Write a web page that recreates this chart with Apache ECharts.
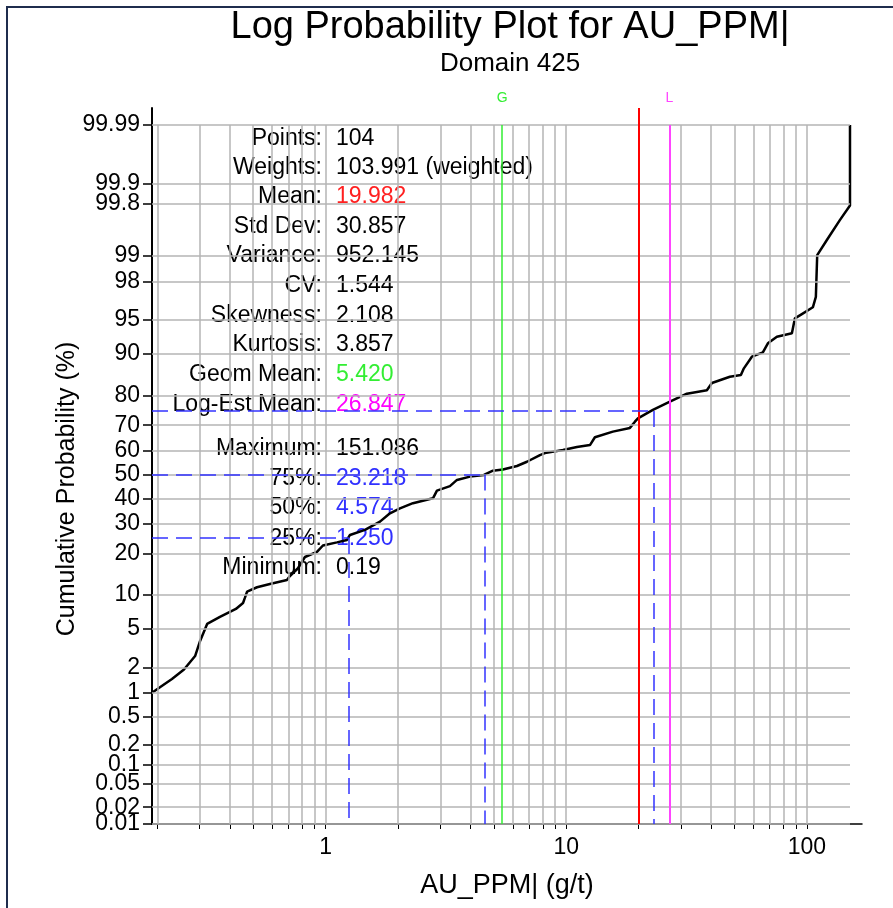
<!DOCTYPE html>
<html>
<head>
<meta charset="utf-8">
<title>Log Probability Plot for AU_PPM|</title>
<script src="https://cdn.jsdelivr.net/npm/echarts@6/dist/echarts.min.js"></script>
<style>
    html, body { margin: 0; padding: 0; background: #fff; }
    #main { width: 893px; height: 908px; }
</style>
</head>
<body>
<div id="main"></div>
<script>
    'use strict';

    // curve: grade (g/t) and cumulative probability (%)
    var auValues = [0.19, 0.205, 0.23, 0.258, 0.287, 0.301, 0.322, 0.364, 0.424, 0.454,
        0.462, 0.472, 0.519, 0.587, 0.691, 0.711, 0.768, 0.821, 0.921, 0.975,
        1.115, 1.227, 1.263, 1.458, 1.683, 1.852, 2.038, 2.307, 2.794, 2.903,
        3.287, 3.516, 3.981, 4.55, 4.961, 5.458, 6.242, 6.867, 7.777, 8.155,
        9.69, 11.08, 12.55, 13.16, 15.63, 18.39, 19.30, 19.86, 22.92, 26.97,
        31.73, 38.42, 40.31, 47.87, 53.19, 54.74, 59.09, 65.65, 68.87, 75.06,
        86.66, 89.19, 95.33, 105.9, 109.0, 110.4, 121.1, 137.1, 151.086, 151.086];
    var cumPercent = [1.01, 1.18, 1.48, 1.90, 2.67, 3.83, 5.59, 6.48, 7.62, 8.58,
        9.45, 10.62, 11.51, 12.20, 13.09, 14.01, 15.92, 19.0, 20.5, 22.5,
        23.5, 24.3, 26.0, 27.8, 30.8, 34.0, 35.9, 38.0, 40.0, 43.2,
        45.1, 47.7, 49.1, 49.8, 51.6, 52.1, 53.6, 55.4, 58.2, 59.0,
        60.3, 61.5, 62.3, 65.4, 67.6, 69.0, 71.3, 72.5, 75.4, 78.1,
        80.5, 81.5, 83.5, 85.1, 85.5, 87.07, 89.5, 90.3, 91.86, 92.87,
        93.35, 95.17, 95.61, 96.24, 97.07, 99.02, 99.37, 99.66, 99.79, 99.99];

    // probability axis ticks (%)
    var probTicks = [0.01, 0.02, 0.05, 0.1, 0.2, 0.5, 1, 2, 5, 10, 20, 30, 40, 50,
        60, 70, 80, 90, 95, 98, 99, 99.8, 99.9, 99.99];
    var probLabels = ['0.01', '0.02', '0.05', '0.1', '0.2', '0.5', '1', '2', '5', '10', '20', '30', '40', '50',
        '60', '70', '80', '90', '95', '98', '99', '99.8', '99.9', '99.99'];

    // log axis grid lines and labels
    var gradeGrid = [0.2, 0.3, 0.4, 0.5, 0.6, 0.7, 0.8, 0.9,
        1, 2, 3, 4, 5, 6, 7, 8, 9,
        10, 20, 30, 40, 50, 60, 70, 80, 90, 100];
    var gradeLabels = [1, 10, 100];

    // statistics box
    var statNames = ['Points:', 'Weights:', 'Mean:', 'Std Dev:', 'Variance:', 'CV:', 'Skewness:', 'Kurtosis:',
        'Geom Mean:', 'Log-Est Mean:', 'Maximum:', '75%:', '50%:', '25%:', 'Minimum:'];
    var statValues = ['104', '103.991 (weighted)', '19.982', '30.857', '952.145', '1.544', '2.108', '3.857',
        '5.420', '26.847', '151.086', '23.218', '4.574', '1.250', '0.19'];
    var statColors = ['#000', '#000', '#ff2020', '#000', '#000', '#000', '#000', '#000',
        '#33ee33', '#ff00ff', '#000', '#3030ff', '#3030ff', '#3030ff', '#000'];

    var gradeMin = 0.19;
    var gradeMax = 151.086;
    var meanGrade = 19.982;
    var geomMean = 5.420;
    var logEstMean = 26.847;
    var quartiles = [[25, 1.250], [50, 4.574], [75, 23.218]];

    // inverse normal cdf (Acklam)
    function probit(pct) {
        var p = pct / 100;
        var a = [-3.969683028665376e+01, 2.209460984245205e+02, -2.759285104469687e+02, 1.383577518672690e+02, -3.066479806614716e+01, 2.506628277459239e+00];
        var b = [-5.447609879822406e+01, 1.615858368580409e+02, -1.556989798598866e+02, 6.680131188771972e+01, -1.328068155288572e+01];
        var c = [-7.784894002430293e-03, -3.223964580411365e-01, -2.400758277161838e+00, -2.549732539343734e+00, 4.374664141464968e+00, 2.938163982698783e+00];
        var d = [7.784695709041462e-03, 3.224671290700398e-01, 2.445134137142996e+00, 3.754408661907416e+00];
        var q, r;
        if (p < 0.02425) {
            q = Math.sqrt(-2 * Math.log(p));
            return (((((c[0] * q + c[1]) * q + c[2]) * q + c[3]) * q + c[4]) * q + c[5]) / ((((d[0] * q + d[1]) * q + d[2]) * q + d[3]) * q + 1);
        }
        if (p > 1 - 0.02425) {
            q = Math.sqrt(-2 * Math.log(1 - p));
            return -(((((c[0] * q + c[1]) * q + c[2]) * q + c[3]) * q + c[4]) * q + c[5]) / ((((d[0] * q + d[1]) * q + d[2]) * q + d[3]) * q + 1);
        }
        q = p - 0.5;
        r = q * q;
        return (((((a[0] * r + a[1]) * r + a[2]) * r + a[3]) * r + a[4]) * r + a[5]) * q / (((((b[0] * r + b[1]) * r + b[2]) * r + b[3]) * r + b[4]) * r + 1);
    }

    var fontFamily = '"Liberation Sans", Arial, sans-serif';
    var zBottom = probit(0.01);
    var zTop = probit(99.99);
    // axes run a little past the plotted range, as in the picture
    var zAxisTop = zTop + 0.181;
    var gradeAxisMax = gradeMax * Math.pow(10, 0.0499);

    var probValues = probTicks.map(probit);

    function probFormatter(v) {
        for (var i = 0; i < probValues.length; i++) {
            if (Math.abs(probValues[i] - v) < 1e-6) {
                return probLabels[i];
            }
        }
        return '';
    }

    var curveData = auValues.map(function (v, i) {
        return [v, probit(cumPercent[i])];
    });

    var gridLines = [];
    gradeGrid.forEach(function (g) {
        gridLines.push([{coord: [g, zBottom]}, {coord: [g, zTop]}]);
    });
    probValues.forEach(function (z) {
        gridLines.push([{coord: [gradeMin, z]}, {coord: [gradeMax, z]}]);
    });

    var blueDash = {color: '#3333ff', width: 1.5, type: [16, 8]};
    var refLines = [
        [{coord: [meanGrade, zBottom], lineStyle: {color: '#ff0000', width: 2, type: 'solid'}}, {coord: [meanGrade, zAxisTop]}],
        [{
            coord: [geomMean, zBottom], lineStyle: {color: '#33ee33', width: 1.5, type: 'solid'},
            label: {show: true, position: 'end', formatter: 'G', color: '#33ee33', fontSize: 14, distance: 20}
        }, {coord: [geomMean, zTop]}],
        [{
            coord: [logEstMean, zBottom], lineStyle: {color: '#ff44ff', width: 2, type: 'solid'},
            label: {show: true, position: 'end', formatter: 'L', color: '#ff44ff', fontSize: 14, distance: 20}
        }, {coord: [logEstMean, zTop]}]
    ];
    quartiles.forEach(function (q) {
        var z = probit(q[0]);
        refLines.push([{coord: [gradeMin, z], lineStyle: blueDash}, {coord: [q[1], z]}]);
        refLines.push([{coord: [q[1], z], lineStyle: blueDash}, {coord: [q[1], zBottom]}]);
    });

    var statRows = [139, 168, 197, 227, 256, 286, 316, 345, 375, 405, 449, 479, 508, 539, 568];
    var graphics = [
        {type: 'rect', shape: {x: 7, y: 7, width: 1000, height: 1000}, style: {fill: 'none', stroke: '#1f2d4d', lineWidth: 2}, z: 0},
        {type: 'text', x: 510, y: 28, style: {text: 'Log Probability Plot for AU_PPM|', fontSize: 38, fontFamily: fontFamily, fill: '#000', align: 'center', verticalAlign: 'middle'}},
        {type: 'text', x: 510, y: 64, style: {text: 'Domain 425', fontSize: 26, fontFamily: fontFamily, fill: '#000', align: 'center', verticalAlign: 'middle'}},
        {type: 'text', x: 67, y: 489, rotation: Math.PI / 2, style: {text: 'Cumulative Probability (%)', fontSize: 25, fontFamily: fontFamily, fill: '#000', align: 'center', verticalAlign: 'middle'}}
    ];
    statNames.forEach(function (name, i) {
        graphics.push({type: 'text', x: 322, y: statRows[i], z: 1,
            style: {text: name, fontSize: 23, fontFamily: fontFamily, fill: '#000', align: 'right', verticalAlign: 'middle'}});
        graphics.push({type: 'text', x: 336, y: statRows[i], z: 1,
            style: {text: statValues[i], fontSize: 23, fontFamily: fontFamily, fill: statColors[i], align: 'left', verticalAlign: 'middle'}});
    });

    var yLabelStyle = {fontSize: 23, fontFamily: fontFamily, color: '#000', margin: 12, formatter: probFormatter};

    var chart = echarts.init(document.getElementById('main'), null, {renderer: 'canvas'});

    var option = {
        animation: false,
        backgroundColor: '#fff',
        grid: {left: 152, top: 108, right: 893 - 862, bottom: 908 - 824, outerBoundsMode: 'none'},
        xAxis: {
            type: 'log',
            logBase: 10,
            min: gradeMin,
            max: gradeAxisMax,
            name: 'AU_PPM| (g/t)',
            nameLocation: 'middle',
            nameGap: 48,
            nameTextStyle: {fontSize: 27, fontFamily: fontFamily, color: '#000'},
            axisLine: {show: true, onZero: false, lineStyle: {color: '#000', width: 1.5}},
            axisTick: {show: true, length: 5, customValues: gradeGrid, lineStyle: {color: '#000', width: 1}},
            axisLabel: {customValues: gradeLabels, fontSize: 23, fontFamily: fontFamily, color: '#000', margin: 12,
                formatter: function (v) { return String(Math.round(v)); }},
            splitLine: {show: false},
            minorSplitLine: {show: false}
        },
        yAxis: [
            {
                // all probability ticks except the bottom one
                type: 'value',
                position: 'left',
                min: zBottom,
                max: zAxisTop,
                axisLine: {show: true, onZero: false, lineStyle: {color: '#000', width: 2}},
                axisTick: {show: true, length: 9, customValues: probValues.slice(1), lineStyle: {color: '#000', width: 1.5}},
                axisLabel: echarts.util.extend({customValues: probValues.slice(1)}, yLabelStyle),
                splitLine: {show: false}
            },
            {
                // bottom 0.01 tick on its own so the min-label overlap rule keeps 0.02
                type: 'value',
                position: 'left',
                offset: 0,
                min: zBottom,
                max: zAxisTop,
                axisLine: {show: false, onZero: false},
                axisTick: {show: true, length: 9, customValues: probValues.slice(0, 1), lineStyle: {color: '#000', width: 1.5}},
                axisLabel: echarts.util.extend({customValues: probValues.slice(0, 1), showMinLabel: true}, yLabelStyle),
                splitLine: {show: false}
            }
        ],
        graphic: graphics,
        series: [
            {
                name: 'grid',
                type: 'line',
                data: [],
                z: 1,
                silent: true,
                markLine: {
                    silent: true,
                    animation: false,
                    symbol: ['none', 'none'],
                    label: {show: false},
                    lineStyle: {color: '#b4b4b4', width: 1.5, type: 'solid'},
                    emphasis: {disabled: true},
                    data: gridLines
                }
            },
            {
                name: 'reference',
                type: 'line',
                data: [],
                z: 3,
                silent: true,
                markLine: {
                    silent: true,
                    animation: false,
                    symbol: ['none', 'none'],
                    label: {show: false},
                    emphasis: {disabled: true},
                    data: refLines
                }
            },
            {
                name: 'AU_PPM',
                type: 'line',
                data: curveData,
                z: 4,
                symbol: 'none',
                lineStyle: {color: '#000', width: 2.5},
                silent: true
            }
        ]
    };

    chart.setOption(option);
</script>
</body>
</html>
